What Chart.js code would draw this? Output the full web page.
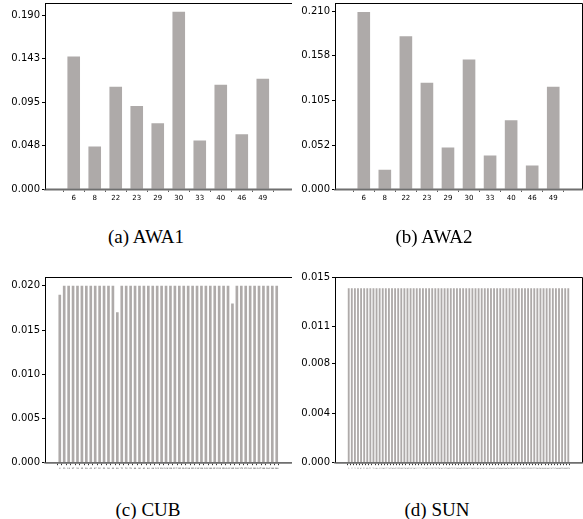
<!DOCTYPE html>
<html><head><meta charset="utf-8">
<script src="https://cdn.jsdelivr.net/npm/chart.js@4.4.1/dist/chart.umd.min.js"></script>
<style>
html,body{margin:0;padding:0;background:#fff;}
body{width:583px;height:519px;position:relative;overflow:hidden;}
.panel{position:absolute;}
.panel canvas{display:block;}
.cap{position:absolute;font-family:"Liberation Serif","Times New Roman",serif;font-size:19px;line-height:20px;color:#000;white-space:nowrap;transform:translateX(-50%);}
</style></head><body>
<div class="panel" style="left:0px;top:0px"><canvas id="c1" width="292" height="210"></canvas></div>
<div class="panel" style="left:290px;top:0px"><canvas id="c2" width="293" height="210"></canvas></div>
<div class="panel" style="left:0px;top:270px"><canvas id="c3" width="292" height="210"></canvas></div>
<div class="panel" style="left:290px;top:270px"><canvas id="c4" width="293" height="210"></canvas></div>
<div class="cap" style="left:146px;top:227px">(a) AWA1</div>
<div class="cap" style="left:434px;top:227px">(b) AWA2</div>
<div class="cap" style="left:148px;top:500px">(c) CUB</div>
<div class="cap" style="left:437px;top:500px">(d) SUN</div>
<script>
// ---------- data ----------
const awa1Labels = ['6','8','22','23','29','30','33','40','46','49'];
const awa1Values = [0.1454, 0.0469, 0.1122, 0.0911, 0.0723, 0.1941, 0.0535, 0.1144, 0.0601, 0.1210];
const awa1YTicks = ['0.000','0.048','0.095','0.143','0.190'];

const awa2Labels = ['6','8','22','23','29','30','33','40','46','49'];
const awa2Values = [0.2092, 0.0231, 0.1806, 0.1257, 0.0493, 0.1531, 0.0398, 0.0815, 0.0282, 0.1209];
const awa2YTicks = ['0.000','0.052','0.105','0.158','0.210'];

const cubLabels = ['6','11','22','27','33','35','38','41','47','50','53','58','62','68','70','76','79','84','86','91','94','99','101','106','109','114','117','121','124','128','131','136','138','143','146','151','153','158','160','165','168','172','175','180','182','187','189','194','196','199'];
const cubValues = [0.019,
  0.020,0.020,0.020,0.020,0.020,0.020,0.020,0.020,0.020,0.020,0.020,0.020,
  0.017,
  0.020,0.020,0.020,0.020,0.020,0.020,0.020,0.020,0.020,0.020,0.020,0.020,0.020,
  0.020,0.020,0.020,0.020,0.020,0.020,0.020,0.020,0.020,0.020,0.020,0.020,
  0.018,
  0.020,0.020,0.020,0.020,0.020,0.020,0.020,0.020,0.020,0.020];
const cubYTicks = ['0.000','0.005','0.010','0.015','0.020'];

const sunLabels = ['3','12','21','33','41','52','60','71','79','88','99','108','117','126','138','147','155','166','174','185','193','204','212','221','232','240','251','259','270','278','289','297','306','317','325','336','344','355','363','372','383','391','402','410','421','429','438','449','457','468','476','487','495','504','515','523','534','542','553','561','572','580','589','600','608','619','627','638','646','655','666','674'];
const sunValues = [0.0141,0.0141,0.0141,0.0141,0.0141,0.0141,0.0141,0.0141,0.0141,0.0141,0.0141,0.0141,
  0.0141,0.0141,0.0141,0.0141,0.0141,0.0141,0.0141,0.0141,0.0141,0.0141,0.0141,0.0141,
  0.0141,0.0141,0.0141,0.0141,0.0141,0.0141,0.0141,0.0141,0.0141,0.0141,0.0141,0.0141,
  0.0141,0.0141,0.0141,0.0141,0.0141,0.0141,0.0141,0.0141,0.0141,0.0141,0.0141,0.0141,
  0.0141,0.0141,0.0141,0.0141,0.0141,0.0141,0.0141,0.0141,0.0141,0.0141,0.0141,0.0141,
  0.0141,0.0141,0.0141,0.0141,0.0141,0.0141,0.0141,0.0141,0.0141,0.0141,0.0141,0.0141];
const sunYTicks = ['0.000','0.004','0.008','0.011','0.015'];

// ---------- drawing ----------
const BAR_COLOR = '#aeaaa9';
const crisp = v => Math.round(v) + 0.5;
const framePlugin = {
  id: 'frame',
  afterDraw(chart) {
    const a = chart.chartArea, ctx = chart.ctx;
    const L = crisp(a.left), T = crisp(a.top), R = crisp(a.right), B = a.bottom;
    ctx.save();
    ctx.strokeStyle = '#000';
    ctx.lineWidth = 1;
    ctx.beginPath();
    ctx.moveTo(L, B);
    ctx.lineTo(L, T);
    ctx.lineTo(R, T);
    ctx.lineTo(R, B);
    ctx.stroke();
    ctx.strokeStyle = '#6f6f6f';
    ctx.lineWidth = 1.6;
    ctx.beginPath();
    ctx.moveTo(L, B);
    ctx.lineTo(R, B);
    ctx.stroke();
    ctx.restore();
  }
};

function makeChart(id, labels, values, yTicks, yMax, area, xFontSize, xColor) {
  const cv = document.getElementById(id);
  const W = cv.width, H = cv.height;
  const n = labels.length, w = 0.6;
  const span = (n - 1) + w;
  const xmin = -w / 2 - 0.05 * span, xmax = (n - 1) + w / 2 + 0.05 * span;
  const yPad = 2;
  new Chart(cv, {
    type: 'bar',
    data: {
      datasets: [{
        data: values.map((v, i) => ({x: i, y: v})),
        backgroundColor: BAR_COLOR,
        borderWidth: 0,
        barPercentage: w,
        categoryPercentage: 1
      }]
    },
    options: {
      responsive: false,
      animation: false,
      events: [],
      layout: { padding: { left: 0, top: area.top - yPad, right: W - area.right, bottom: 0 } },
      plugins: { legend: { display: false }, tooltip: { enabled: false } },
      scales: {
        x: {
          type: 'linear', min: xmin, max: xmax,
          afterBuildTicks: s => { s.ticks = labels.map((_, i) => ({value: i})); },
          afterFit: s => { s.height = H - area.bottom; },
          ticks: {
            autoSkip: false, maxRotation: 0, minRotation: 0, padding: 2,
            color: xColor, font: { family: 'DejaVu Sans', size: xFontSize },
            callback: (v, i) => labels[i]
          },
          grid: { display: true, drawOnChartArea: false, drawTicks: true, tickLength: 2.5, color: '#000', tickColor: '#000', lineWidth: 0.8 },
          border: { display: true, color: '#6f6f6f', width: 1.6 }
        },
        y: {
          type: 'linear', min: 0, max: yMax,
          afterBuildTicks: s => { s.ticks = yTicks.map(t => ({value: Number(t)})); },
          afterFit: s => { s.width = area.left; },
          ticks: {
            padding: yPad, color: '#000',
            font: { family: 'DejaVu Sans', size: 10, lineHeight: 0.001 },
            callback: (v, i) => yTicks[i]
          },
          grid: { display: true, drawOnChartArea: false, drawTicks: true, tickLength: 3, color: '#000', tickColor: '#000', lineWidth: 1 },
          border: { display: true, color: '#000', width: 1 }
        }
      }
    },
    plugins: [framePlugin]
  });
}

makeChart('c1', awa1Labels, awa1Values, awa1YTicks, 0.2038, {left: 45, top: 5, right: 291.5, bottom: 189.3}, 7, '#000');
makeChart('c2', awa2Labels, awa2Values, awa2YTicks, 0.2197, {left: 45, top: 5, right: 292, bottom: 189.3}, 7, '#000');
makeChart('c3', cubLabels, cubValues, cubYTicks, 0.021, {left: 45, top: 9, right: 291.5, bottom: 192.7}, 2, '#333');
makeChart('c4', sunLabels, sunValues, sunYTicks, 0.015, {left: 45, top: 9, right: 292, bottom: 192.7}, 1.6, '#555');
</script>
</body></html>
